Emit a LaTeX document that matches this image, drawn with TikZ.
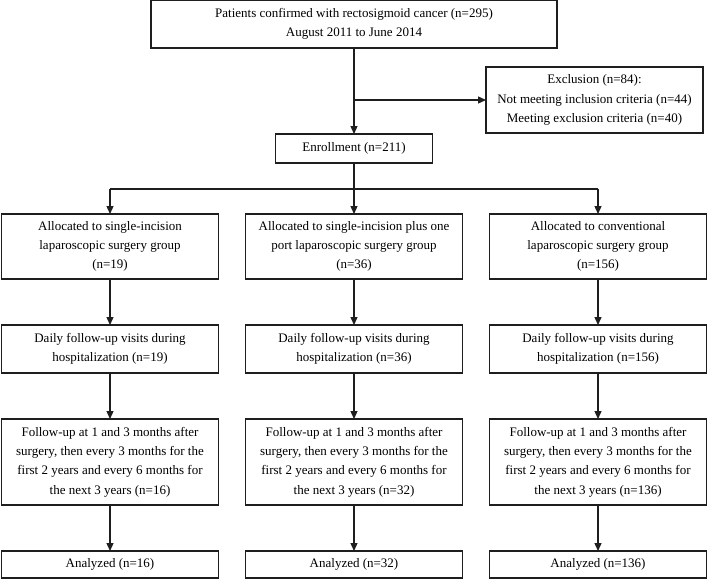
\documentclass[tikz,border=0pt]{standalone}
\usepackage{fontspec}
\setmainfont{Liberation Serif}
\usepackage{tikz}
\usetikzlibrary{
  arrows.meta,
  positioning
}
\definecolor{boxink}{RGB}{30,30,30}
\tikzset{
  stage/.style={draw=boxink,line width=1.3pt,align=center,inner sep=2pt,
    outer sep=0pt,font=\fontsize{13}{19.3}\selectfont},
  group/.style={stage,minimum width=217pt},
  flow/.style={-{Triangle[length=8pt,width=7pt]},line width=1.3pt,draw=boxink},
  link/.style={line width=1.3pt,draw=boxink}
}

\begin{document}
\begin{tikzpicture}[x=1pt,y=-1pt]
  \useasboundingbox (0,0) rectangle (709,579);
  \node[stage,minimum width=406pt,minimum height=48pt] (pt) at (354,24)
    {Patients confirmed with rectosigmoid cancer (n=295)\\August 2011 to June 2014};
  \node[stage,minimum width=217pt,minimum height=66pt] (ex) at (594.5,100)
    {Exclusion (n=84):\\Not meeting inclusion criteria (n=44)\\Meeting exclusion criteria (n=40)};
  \node[stage,below=86pt of pt,minimum width=157pt,minimum height=29pt] (en)
    {Enrollment (n=211)};
  \coordinate[below=26pt of en] (split);

  % allocated groups
  \node[group,below=51pt of en,minimum height=65pt] (gp)
    {Allocated to single-incision plus one\\port laparoscopic surgery group\\(n=36)};
  \node[group,left=27pt of gp,minimum height=65pt] (gs)
    {Allocated to single-incision\\laparoscopic surgery group\\(n=19)};
  \node[group,right=27pt of gp,minimum height=65pt] (gc)
    {Allocated to conventional\\laparoscopic surgery group\\(n=156)};

  % daily visits
  \node[group,below=46pt of gs,minimum height=48pt] (ds)
    {Daily follow-up visits during\\hospitalization (n=19)};
  \node[group,below=46pt of gp,minimum height=48pt] (dp)
    {Daily follow-up visits during\\hospitalization (n=36)};
  \node[group,below=46pt of gc,minimum height=48pt] (dc)
    {Daily follow-up visits during\\hospitalization (n=156)};

  % long-term follow-up
  \node[group,below=46pt of ds,minimum height=86pt] (fs)
    {Follow-up at 1 and 3 months after\\surgery, then every 3 months for the\\first 2 years and every 6 months for\\the next 3 years (n=16)};
  \node[group,below=46pt of dp,minimum height=86pt] (fp)
    {Follow-up at 1 and 3 months after\\surgery, then every 3 months for the\\first 2 years and every 6 months for\\the next 3 years (n=32)};
  \node[group,below=46pt of dc,minimum height=86pt] (fc)
    {Follow-up at 1 and 3 months after\\surgery, then every 3 months for the\\first 2 years and every 6 months for\\the next 3 years (n=136)};

  % analysis
  \node[group,below=46pt of fs,minimum height=27pt] (as) {Analyzed (n=16)};
  \node[group,below=46pt of fp,minimum height=27pt] (ap) {Analyzed (n=32)};
  \node[group,below=46pt of fc,minimum height=27pt] (ac) {Analyzed (n=136)};

  \draw[flow] (pt) -- (en);
  \draw[flow] (pt.south |- ex.west) -- (ex.west);
  \draw[link] (en) -- (split);
  \draw[link] (split -| gs) -- (split -| gc);
  \draw[flow] (split -| gs) -- (gs);
  \draw[flow] (split) -- (gp);
  \draw[flow] (split -| gc) -- (gc);
  \draw[flow] (gs) -- (ds);
  \draw[flow] (gp) -- (dp);
  \draw[flow] (gc) -- (dc);
  \draw[flow] (ds) -- (fs);
  \draw[flow] (dp) -- (fp);
  \draw[flow] (dc) -- (fc);
  \draw[flow] (fs) -- (as);
  \draw[flow] (fp) -- (ap);
  \draw[flow] (fc) -- (ac);
\end{tikzpicture}
\end{document}
